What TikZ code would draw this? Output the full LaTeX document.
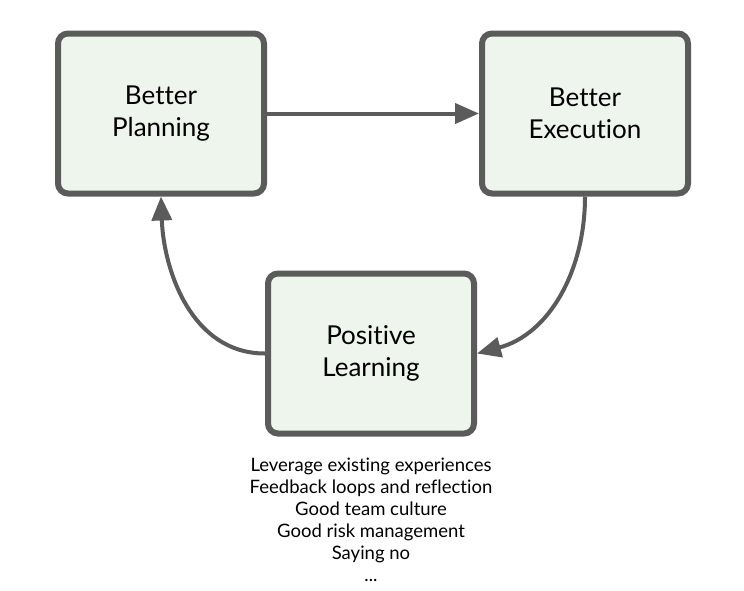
\documentclass[tikz,border=0pt]{standalone}
\usepackage{fontspec}
\setmainfont{Lato}[Ligatures=NoCommon]
\usetikzlibrary{arrows.meta,positioning}
\definecolor{boxfill}{HTML}{EEF5EC}
\definecolor{edgegray}{HTML}{5B5B5B}

\begin{document}
\begin{tikzpicture}[x=1pt,y=-1pt,
    stage/.style={draw=edgegray,line width=6pt,fill=boxfill,rounded corners=10pt,
        minimum width=206pt,minimum height=160pt,align=center,
        font=\fontsize{26}{32}\selectfont},
    notes/.style={align=center,font=\fontsize{18.5}{22}\selectfont},
    flow/.style={draw=edgegray,line width=4pt,-{Triangle[length=24pt,width=20pt]}}]
    \useasboundingbox (0,0) rectangle (744,590);

    \node[stage] (planning) at (161,113.5) {Better\\Planning};
    \node[stage,right=212pt of planning] (execution) {Better\\Execution};
    \node[stage] (learning) at (371,353.5) {Positive\\Learning};
    \node[notes,below=18pt of learning] (list) {Leverage existing experiences\\
        Feedback loops and reflection\\Good team culture\\Good risk management\\
        Saying no\\...};

    \draw[flow] (planning) -- (execution);
    \draw[flow] (execution.south) to[out=-90,in=15] (learning.east);
    \draw[flow] (learning.west) to[out=180,in=-88] (planning.south);
\end{tikzpicture}
\end{document}
